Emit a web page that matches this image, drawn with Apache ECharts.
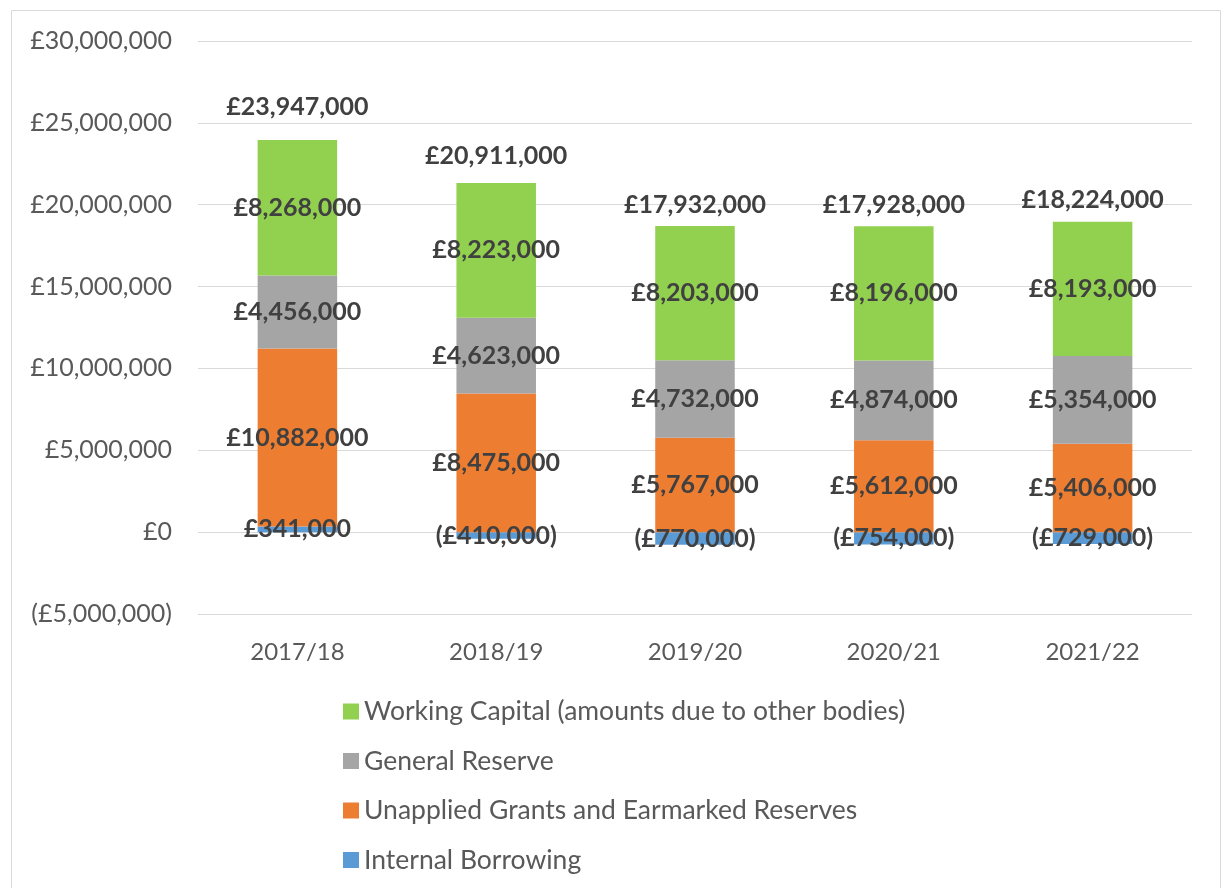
<!DOCTYPE html>
<html>
<head>
<meta charset="utf-8">
<script src="https://cdn.jsdelivr.net/npm/echarts@6/dist/echarts.min.js"></script>
<style>
  html, body { margin: 0; padding: 0; background: #fff; }
  #chart { width: 1226px; height: 888px; }
</style>
</head>
<body>
<div id="chart"></div>
<script>
const years = ["2017/18", "2018/19", "2019/20", "2020/21", "2021/22"];
const internalBorrowing = [341000, -410000, -770000, -754000, -729000];
const unappliedGrants = [10882000, 8475000, 5767000, 5612000, 5406000];
const generalReserve = [4456000, 4623000, 4732000, 4874000, 5354000];
const workingCapital = [8268000, 8223000, 8203000, 8196000, 8193000];
const totals = [23947000, 20911000, 17932000, 17928000, 18224000];

const fontName = "Lato";

// £ format, negatives shown in brackets
function money(v) {
  const s = "£" + Math.abs(v).toLocaleString("en-GB");
  return v < 0 ? "(" + s + ")" : s;
}

const boldLabel = {
  show: true,
  position: "inside",
  fontFamily: fontName,
  fontWeight: "bold",
  fontSize: 25,
  color: "#404040",
  formatter: (p) => money(p.value)
};

function stackBar(name, data, color) {
  return {
    name: name,
    type: "bar",
    stack: "all",
    data: data,
    barCategoryGap: "60%",
    barGap: "-100%",
    itemStyle: { color: color },
    label: boldLabel
  };
}

const chart = echarts.init(document.getElementById("chart"));
chart.setOption({
  animation: false,
  graphic: [{
    type: "rect",
    shape: { x: 11.5, y: 10.5, width: 1209, height: 900 },
    style: { fill: "none", stroke: "#d9d9d9", lineWidth: 1 },
    silent: true
  }],
  grid: { left: 198, right: 34, top: 41, bottom: 274 },
  legend: {
    orient: "vertical",
    left: 338,
    top: 693,
    itemWidth: 16,
    itemHeight: 16,
    itemGap: 22.5,
    icon: "rect",
    data: [
      "Working Capital (amounts due to other bodies)",
      "General Reserve",
      "Unapplied Grants and Earmarked Reserves",
      "Internal Borrowing"
    ],
    textStyle: { fontFamily: fontName, fontSize: 26.5, color: "#595959", lineHeight: 26 }
  },
  xAxis: {
    type: "category",
    data: years,
    axisLine: { show: false },
    axisTick: { show: false },
    axisLabel: { fontFamily: fontName, fontSize: 24, color: "#595959", margin: 26 }
  },
  yAxis: {
    type: "value",
    min: -5000000,
    max: 30000000,
    interval: 5000000,
    axisLine: { show: false },
    axisTick: { show: false },
    splitLine: { lineStyle: { color: "#d9d9d9", width: 1 } },
    axisLabel: {
      fontFamily: fontName, fontSize: 25, color: "#595959", margin: 26,
      formatter: (v) => money(v)
    }
  },
  series: [
    stackBar("Internal Borrowing", internalBorrowing, "#5b9bd5"),
    stackBar("Unapplied Grants and Earmarked Reserves", unappliedGrants, "#ed7d31"),
    stackBar("General Reserve", generalReserve, "#a5a5a5"),
    stackBar("Working Capital (amounts due to other bodies)", workingCapital, "#92d050"),
    {
      // invisible bar carrying the total label
      name: "Total",
      type: "bar",
      data: totals,
      barCategoryGap: "60%",
      barGap: "-100%",
      z: 10,
      silent: true,
      itemStyle: { color: "rgba(0,0,0,0)" },
      label: Object.assign({}, boldLabel, { position: "top", distance: 21 })
    }
  ]
});
</script>
</body>
</html>
